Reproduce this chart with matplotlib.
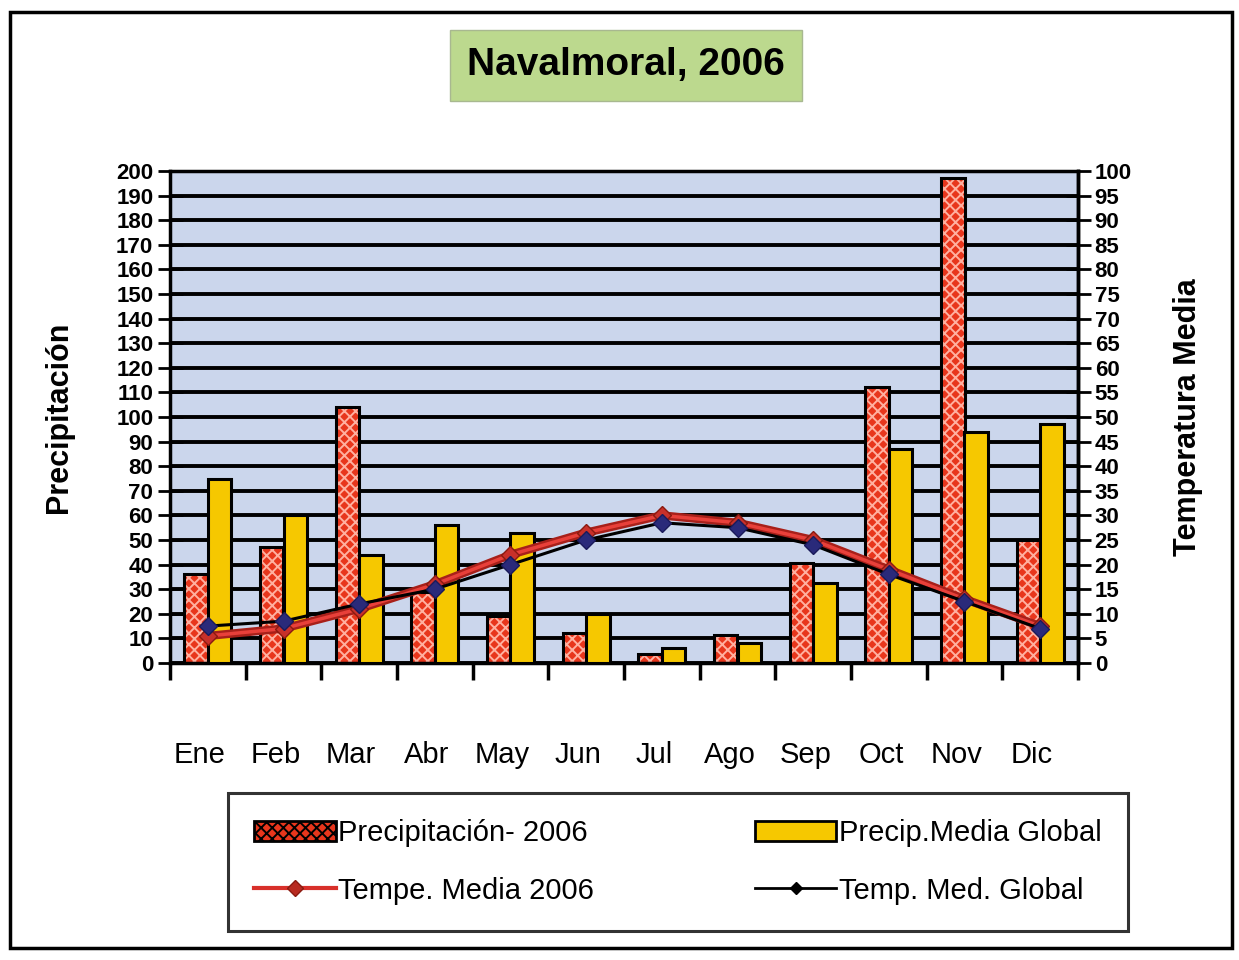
import numpy as np
import matplotlib
matplotlib.use("Agg")
import matplotlib.pyplot as plt
import matplotlib.transforms as mtransforms
from matplotlib.patches import Rectangle, Patch
from matplotlib.lines import Line2D

# data
meses = ["Ene", "Feb", "Mar", "Abr", "May", "Jun", "Jul", "Ago", "Sep", "Oct", "Nov", "Dic"]
precip_2006 = [36, 47, 104, 29, 19, 12, 3.5, 11.5, 40.5, 112, 197, 50]
precip_global = [75, 60, 44, 56, 53, 20, 6, 8, 32.5, 87, 94, 97]
temp_2006 = [5.5, 7, 11, 16, 22, 26.5, 30, 28.5, 25, 19, 13, 7.5]
temp_global = [7.5, 8.5, 12, 15, 20, 25, 28.5, 27.5, 24, 18, 12.5, 7]

plt.rcParams["font.family"] = ["Liberation Sans", "DejaVu Sans"]
plt.rcParams["hatch.linewidth"] = 1.4

fig = plt.figure(figsize=(12.39, 9.6), dpi=100)
fig.patch.set_facecolor("white")

# outer frame
fig.patches.append(Rectangle((10 / 1239, 12 / 960), 1222 / 1239, 936 / 960,
                             transform=fig.transFigure, fill=False,
                             edgecolor="black", linewidth=2.5))

ax = fig.add_axes([170 / 1239, 1 - 663 / 960, 908 / 1239, 492 / 960])
ax.set_facecolor("#cbd6ec")
ax.set_axisbelow(True)

x = np.arange(len(meses))
w = 0.31

# red checker bars: fill + light hatch, then black outline
ax.bar(x - w / 2, precip_2006, w, color="#e8361c", edgecolor="#ffb0a0",
       hatch="xxx", linewidth=0, zorder=2)
ax.bar(x - w / 2, precip_2006, w, fill=False, edgecolor="black",
       linewidth=2.2, zorder=3)
ax.bar(x + w / 2, precip_global, w, color="#f6c800", edgecolor="black",
       linewidth=2.2, zorder=3)

ax.set_xlim(-0.5, 11.5)
ax.set_ylim(0, 200)
ax.set_yticks(np.arange(0, 201, 10))
ax.grid(axis="y", color="black", linewidth=2.8)
ax.tick_params(axis="y", direction="inout", length=18, width=2,
               labelsize=16, pad=3)
for lab in ax.get_yticklabels():
    lab.set_fontweight("bold")

# month labels at centres, boundary ticks as minor ticks
ax.set_xticks(x)
ax.set_xticklabels(meses, fontsize=21)
ax.set_xticks(np.arange(-0.5, 12, 1), minor=True)
ax.tick_params(axis="x", which="major", length=0, pad=56)
ax.tick_params(axis="x", which="minor", direction="out", length=12, width=2.5)
shift = mtransforms.ScaledTranslation(-8 / 100, 0, fig.dpi_scale_trans)
for lab in ax.get_xticklabels():
    lab.set_transform(lab.get_transform() + shift)

for s in ax.spines.values():
    s.set_linewidth(2.5)

ax.set_ylabel("Precipitación", fontsize=22, fontweight="bold", labelpad=30)

# temperature axis
ax2 = ax.twinx()
ax2.set_ylim(0, 100)
ax2.set_yticks(np.arange(0, 101, 5))
ax2.tick_params(axis="y", direction="inout", length=18, width=2,
                labelsize=16, pad=3)
for lab in ax2.get_yticklabels():
    lab.set_fontweight("bold")
ax2.spines["right"].set_linewidth(2.5)
ax2.set_ylabel("Temperatura Media", fontsize=22, fontweight="bold", labelpad=30)

ax2.plot(x, temp_2006, color="#a8201a", linewidth=6, zorder=4)
ax2.plot(x, temp_2006, color="#e8403a", linewidth=2.5, marker="D",
         markersize=9, markerfacecolor="#c8302a", markeredgecolor="#8a1a10",
         zorder=5)
ax2.plot(x, temp_global, color="black", linewidth=2.2, marker="D",
         markersize=9, markerfacecolor="#2a2a7a", markeredgecolor="#1a1a5a",
         zorder=6)

# title box
fig.text(626 / 1239, 1 - 65 / 960, "Navalmoral, 2006", ha="center", va="center",
         fontsize=28, fontweight="bold", color="black",
         bbox=dict(boxstyle="square,pad=0.45", facecolor="#bcd98e",
                   edgecolor="#a8b890", linewidth=1))

# legend
handles = [
    Patch(facecolor="#e8361c", edgecolor="black", hatch="xxx", linewidth=2),
    Patch(facecolor="#f6c800", edgecolor="black", linewidth=2),
    Line2D([], [], color="#d8302a", linewidth=3, marker="D", markersize=8,
           markerfacecolor="#b82a20", markeredgecolor="#8a1a10"),
    Line2D([], [], color="black", linewidth=2, marker="D", markersize=6,
           markerfacecolor="black"),
]
labels = ["Precipitación- 2006", "Tempe. Media 2006",
          "Precip.Media Global", "Temp. Med. Global"]
order = [0, 2, 1, 3]
leg = fig.legend([handles[i] for i in order], labels, ncol=2,
                 loc="center", bbox_to_anchor=(678 / 1239, 1 - 862 / 960),
                 prop={"size": 21},
                 frameon=True, fancybox=False, edgecolor="black",
                 handlelength=2.8, handletextpad=0.1, columnspacing=5.5,
                 labelspacing=1.0, borderpad=0.9)
leg.get_frame().set_linewidth(2.2)

fig.savefig("out.png", dpi=100)
